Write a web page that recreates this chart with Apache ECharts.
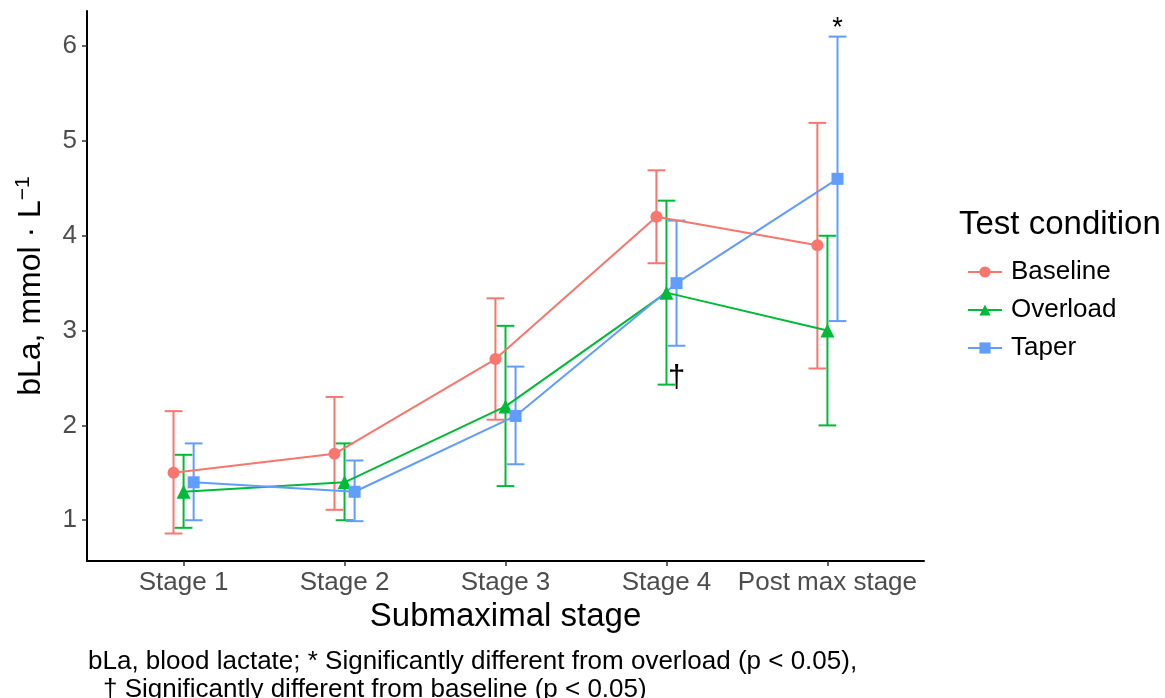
<!DOCTYPE html>
<html>
<head>
<meta charset="utf-8">
<script src="https://cdn.jsdelivr.net/npm/echarts@6/dist/echarts.min.js"></script>
<style>
  html, body { margin: 0; padding: 0; background: #fff; }
  #chart { width: 1165px; height: 698px; }
</style>
</head>
<body>
<div id="chart"></div>
<script>
// categories
const stages = ['Stage 1', 'Stage 2', 'Stage 3', 'Stage 4', 'Post max stage'];
const yTicks = [1, 2, 3, 4, 5, 6];

// means and error bar limits
const baselineMean = [1.5, 1.7, 2.7, 4.2, 3.9];
const baselineLow = [0.86, 1.11, 2.06, 3.71, 2.6];
const baselineHigh = [2.15, 2.3, 3.34, 4.69, 5.19];

const overloadMean = [1.3, 1.4, 2.2, 3.4, 3.0];
const overloadLow = [0.92, 1.0, 1.36, 2.43, 2.0];
const overloadHigh = [1.69, 1.81, 3.05, 4.37, 4.0];

const taperMean = [1.4, 1.3, 2.1, 3.5, 4.6];
const taperLow = [1.0, 0.99, 1.59, 2.84, 3.1];
const taperHigh = [1.81, 1.63, 2.62, 4.16, 6.1];

// significance marks: [stage index, group, y, text]
const marks = [
    [4, 'Taper', 6.19, '*'],
    [3, 'Taper', 2.5, '†']
];

const FONT = '"Liberation Sans", Arial, sans-serif';
const DODGE = 0.0625;
const CAP = 0.055;

const groups = [
    { name: 'Baseline', color: '#F8766D', symbol: 'circle', size: 12, off: -DODGE, mean: baselineMean, low: baselineLow, high: baselineHigh },
    { name: 'Overload', color: '#00BA38', symbol: 'triangle', size: 14, off: 0, mean: overloadMean, low: overloadLow, high: overloadHigh },
    { name: 'Taper', color: '#619CFF', symbol: 'rect', size: 12, off: DODGE, mean: taperMean, low: taperLow, high: taperHigh }
];
const offsetOf = {};
groups.forEach(g => { offsetOf[g.name] = g.off; });

const errorSeries = groups.map(g => ({
    type: 'custom',
    name: g.name + ' err',
    z: 1,
    silent: true,
    data: stages.map((s, i) => [i + 1 + g.off, g.low[i], g.high[i]]),
    renderItem: (params, api) => {
        const x = api.value(0);
        const top = api.coord([x, api.value(2)]);
        const bot = api.coord([x, api.value(1)]);
        const l = api.coord([x - CAP, 0])[0];
        const r = api.coord([x + CAP, 0])[0];
        const st = { stroke: g.color, lineWidth: 2 };
        return {
            type: 'group',
            children: [
                { type: 'line', shape: { x1: top[0], y1: top[1], x2: bot[0], y2: bot[1] }, style: st },
                { type: 'line', shape: { x1: l, y1: top[1], x2: r, y2: top[1] }, style: st },
                { type: 'line', shape: { x1: l, y1: bot[1], x2: r, y2: bot[1] }, style: st }
            ]
        };
    }
}));

const lineSeries = groups.map(g => ({
    type: 'line',
    name: g.name,
    z: 3,
    data: stages.map((s, i) => [i + 1 + g.off, g.mean[i]]),
    symbol: g.symbol,
    symbolSize: g.size,
    showAllSymbol: true,
    color: g.color,
    lineStyle: { width: 2, color: g.color },
    itemStyle: { color: g.color },
    emphasis: { disabled: true }
}));

const markSeries = {
    type: 'custom',
    name: 'marks',
    z: 4,
    silent: true,
    data: marks.map(m => [m[0] + 1 + offsetOf[m[1]], m[2], m[3]]),
    renderItem: (params, api) => {
        const p = api.coord([api.value(0), api.value(1)]);
        const txt = marks[params.dataIndex][3];
        return {
            type: 'text',
            x: p[0],
            y: p[1],
            style: {
                text: txt,
                fill: '#000',
                font: (txt === '*' ? '27px ' : '31px ') + FONT,
                align: 'center',
                verticalAlign: 'middle'
            }
        };
    }
};

const chart = echarts.init(document.getElementById('chart'));
chart.setOption({
    animation: false,
    backgroundColor: '#fff',
    textStyle: { fontFamily: FONT },
    grid: { left: 87, right: 241, top: 11, bottom: 137, outerBoundsMode: 'none', containLabel: false },
    xAxis: {
        type: 'value',
        min: 0.4,
        max: 5.6,
        splitLine: { show: false },
        axisLine: { show: true, onZero: false, lineStyle: { color: '#000', width: 2 } },
        axisTick: { show: true, customValues: [1, 2, 3, 4, 5], length: 5, lineStyle: { color: '#333', width: 1.5 } },
        axisLabel: {
            customValues: [1, 2, 3, 4, 5],
            formatter: v => stages[Math.round(v) - 1],
            color: '#4D4D4D',
            fontSize: 26,
            margin: 9,
            fontFamily: FONT
        },
        name: 'Submaximal stage',
        nameLocation: 'middle',
        nameGap: 38,
        nameTextStyle: { fontSize: 33, color: '#000', fontFamily: FONT }
    },
    yAxis: {
        type: 'value',
        min: 0.57,
        max: 6.37,
        splitLine: { show: false },
        axisLine: { show: true, onZero: false, lineStyle: { color: '#000', width: 2 } },
        axisTick: { show: true, customValues: yTicks, length: 5, lineStyle: { color: '#333', width: 1.5 } },
        axisLabel: {
            customValues: yTicks,
            color: '#4D4D4D',
            fontSize: 26,
            margin: 10,
            fontFamily: FONT
        },
        name: '{a|bLa, mmol · L}{s|−1}',
        nameLocation: 'middle',
        nameGap: 37,
        nameRotate: 90,
        nameTextStyle: {
            color: '#000',
            fontFamily: FONT,
            rich: {
                a: { fontSize: 32, color: '#000', fontFamily: FONT },
                s: { fontSize: 21, color: '#000', fontFamily: FONT, verticalAlign: 'top', padding: [0, 0, 16, 0] }
            }
        }
    },
    legend: {
        data: groups.map(g => g.name),
        orient: 'vertical',
        left: 962,
        top: 254,
        itemWidth: 34,
        itemHeight: 14,
        itemGap: 12,
        textStyle: { fontSize: 26, lineHeight: 26, color: '#000', fontFamily: FONT, padding: [0, 0, 0, 4] }
    },
    graphic: [
        { type: 'text', left: 959, top: 208, style: { text: 'Test condition', font: '33px ' + FONT, fill: '#000' } },
        { type: 'text', left: 88, top: 649, style: { text: 'bLa, blood lactate; * Significantly different from overload (p < 0.05),', font: '26px ' + FONT, fill: '#000' } },
        { type: 'text', left: 103, top: 677, style: { text: '† Significantly different from baseline (p < 0.05)', font: '26px ' + FONT, fill: '#000' } }
    ],
    series: [...errorSeries, ...lineSeries, markSeries]
});
</script>
</body>
</html>
